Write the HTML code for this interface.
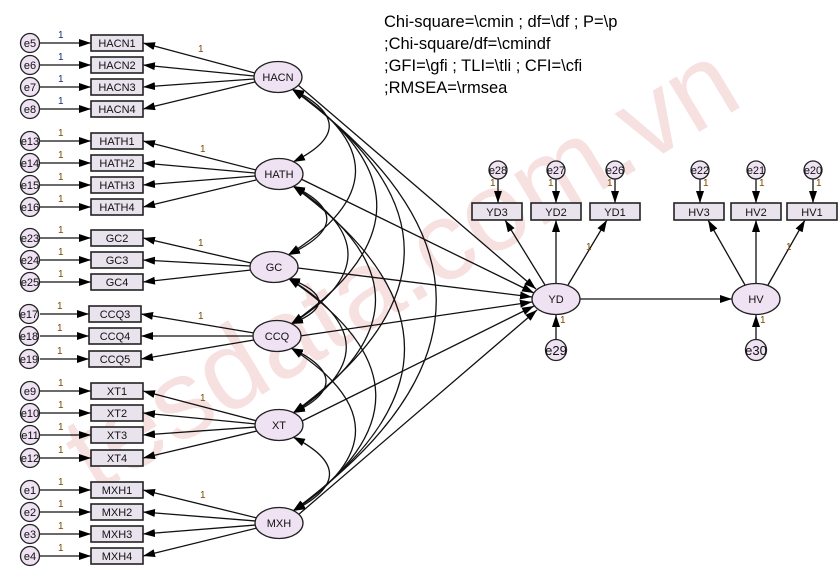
<!DOCTYPE html>
<html><head><meta charset="utf-8"><style>
html,body{margin:0;padding:0;background:#fff;width:840px;height:571px;overflow:hidden;}
svg{display:block;font-family:"Liberation Sans",Arial,sans-serif;}
.b{fill:#e9e3ee;stroke:#222;stroke-width:1.6;}
.c{fill:#efe2f3;stroke:#222;stroke-width:1.3;}
.l{stroke:#111;stroke-width:1.3;fill:none;}
.t{font-size:11px;text-anchor:middle;fill:#111;}
.o{font-size:10px;fill:#7a4a00;}
.n{font-size:10px;fill:#1a2a80;}
</style></head><body>
<svg width="840" height="571" viewBox="0 0 840 571" xmlns="http://www.w3.org/2000/svg">
<defs>
<marker id="a" viewBox="0 0 12 8" refX="12" refY="4" markerWidth="12" markerHeight="8" markerUnits="userSpaceOnUse" orient="auto-start-reverse"><path d="M0,0L12,4L0,8z" fill="#000"/></marker>
</defs>
<text x="95" y="495" font-size="112" fill="#f6e0e0" transform="rotate(-31 95 495)" font-family="Liberation Sans">tesdata.com.vn</text>
<g font-size="16.5" fill="#000">
<text x="384" y="27">Chi-square=\cmin ; df=\df ; P=\p</text>
<text x="384" y="49">;Chi-square/df=\cmindf</text>
<text x="384" y="71">;GFI=\gfi ; TLI=\tli ; CFI=\cfi</text>
<text x="384" y="93">;RMSEA=\rmsea</text>
</g>
<g class="l" marker-end="url(#a)">
<line x1="40" y1="43" x2="91" y2="43"/><line x1="40" y1="65" x2="91" y2="65"/><line x1="40" y1="87" x2="91" y2="87"/><line x1="40" y1="109" x2="91" y2="109"/>
<line x1="40" y1="141" x2="91" y2="141"/><line x1="40" y1="163" x2="91" y2="163"/><line x1="40" y1="185" x2="91" y2="185"/><line x1="40" y1="207" x2="91" y2="207"/>
<line x1="40" y1="238" x2="91" y2="238"/><line x1="40" y1="260" x2="91" y2="260"/><line x1="40" y1="282" x2="91" y2="282"/>
<line x1="40" y1="314" x2="89" y2="314"/><line x1="40" y1="336" x2="89" y2="336"/><line x1="40" y1="359" x2="89" y2="359"/>
<line x1="40" y1="391" x2="91" y2="391"/><line x1="40" y1="413" x2="91" y2="413"/><line x1="40" y1="435" x2="91" y2="435"/><line x1="40" y1="458" x2="91" y2="458"/>
<line x1="40" y1="490" x2="91" y2="490"/><line x1="40" y1="512" x2="91" y2="512"/><line x1="40" y1="534" x2="91" y2="534"/><line x1="40" y1="556" x2="91" y2="556"/>
<line x1="255" y1="73" x2="143" y2="43"/><line x1="254" y1="76" x2="143" y2="65"/><line x1="254" y1="79" x2="143" y2="87"/><line x1="255" y1="82" x2="143" y2="109"/>
<line x1="256" y1="170" x2="143" y2="141"/><line x1="255" y1="173" x2="143" y2="163"/><line x1="255" y1="176" x2="143" y2="185"/><line x1="256" y1="180" x2="143" y2="207"/>
<line x1="251" y1="263" x2="143" y2="238"/><line x1="250" y1="266" x2="143" y2="260"/><line x1="251" y1="270" x2="143" y2="282"/>
<line x1="254" y1="333" x2="141" y2="314"/><line x1="253" y1="336" x2="141" y2="336"/><line x1="254" y1="340" x2="141" y2="359"/>
<line x1="257" y1="421" x2="143" y2="391"/><line x1="256" y1="424" x2="143" y2="413"/><line x1="256" y1="427" x2="143" y2="435"/><line x1="257" y1="431" x2="143" y2="458"/>
<line x1="257" y1="518" x2="143" y2="490"/><line x1="256" y1="521" x2="143" y2="512"/><line x1="256" y1="525" x2="143" y2="534"/><line x1="257" y1="528" x2="143" y2="556"/>
<line x1="298" y1="85" x2="536" y2="289"/>
<line x1="301" y1="179" x2="534" y2="293"/>
<line x1="298" y1="268" x2="532" y2="297"/>
<line x1="300" y1="336" x2="532" y2="302"/>
<line x1="300" y1="422" x2="534" y2="306"/>
<line x1="298" y1="515" x2="537" y2="310"/>
<line x1="580" y1="299" x2="732" y2="299"/>
<line x1="545" y1="285" x2="505" y2="220"/><line x1="556" y1="283" x2="556" y2="220"/><line x1="568" y1="285" x2="607" y2="220"/>
<line x1="745" y1="285" x2="708" y2="220"/><line x1="756" y1="283" x2="756" y2="220"/><line x1="768" y1="285" x2="805" y2="220"/>
<line x1="498" y1="179" x2="498" y2="203"/><line x1="556" y1="179" x2="556" y2="203"/><line x1="615" y1="179" x2="615" y2="203"/>
<line x1="700" y1="179" x2="700" y2="203"/><line x1="756" y1="179" x2="756" y2="203"/><line x1="813" y1="179" x2="813" y2="203"/>
<line x1="556" y1="340" x2="556" y2="315"/><line x1="756" y1="340" x2="756" y2="315"/>
</g>
<g class="l" marker-start="url(#a)" marker-end="url(#a)">
<path d="M292 89 Q366 126 293 162"/>
<path d="M292 89 Q421 172 288 255"/>
<path d="M292 89 Q462 206 291 324"/>
<path d="M292 89 Q516 250 293 413"/>
<path d="M292 89 Q580 300 293 511"/>
<path d="M293 186 Q363 220 288 255"/>
<path d="M293 186 Q404 255 291 324"/>
<path d="M293 186 Q458 300 293 413"/>
<path d="M293 186 Q516 349 293 511"/>
<path d="M288 278 Q348 301 291 324"/>
<path d="M288 278 Q402 346 293 413"/>
<path d="M288 278 Q461 394 293 511"/>
<path d="M291 348 Q360 381 293 413"/>
<path d="M291 348 Q419 430 293 511"/>
<path d="M293 437 Q366 474 293 511"/>
</g>
<g>
<rect class="b" x="91" y="35" width="52" height="16"/><rect class="b" x="91" y="57" width="52" height="16"/><rect class="b" x="91" y="79" width="52" height="16"/><rect class="b" x="91" y="101" width="52" height="16"/>
<rect class="b" x="91" y="133" width="52" height="16"/><rect class="b" x="91" y="155" width="52" height="16"/><rect class="b" x="91" y="177" width="52" height="16"/><rect class="b" x="91" y="199" width="52" height="16"/>
<rect class="b" x="91" y="230" width="52" height="16"/><rect class="b" x="91" y="252" width="52" height="16"/><rect class="b" x="91" y="274" width="52" height="16"/>
<rect class="b" x="89" y="306" width="52" height="16"/><rect class="b" x="89" y="328" width="52" height="16"/><rect class="b" x="89" y="351" width="52" height="16"/>
<rect class="b" x="91" y="383" width="52" height="16"/><rect class="b" x="91" y="405" width="52" height="16"/><rect class="b" x="91" y="427" width="52" height="16"/><rect class="b" x="91" y="450" width="52" height="16"/>
<rect class="b" x="91" y="482" width="52" height="16"/><rect class="b" x="91" y="504" width="52" height="16"/><rect class="b" x="91" y="526" width="52" height="16"/><rect class="b" x="91" y="548" width="52" height="16"/>
<rect class="b" x="472" y="203" width="50" height="17"/><rect class="b" x="531" y="203" width="50" height="17"/><rect class="b" x="590" y="203" width="50" height="17"/>
<rect class="b" x="674" y="203" width="50" height="17"/><rect class="b" x="731" y="203" width="50" height="17"/><rect class="b" x="787" y="203" width="50" height="17"/>
</g>
<g class="t">
<text x="117" y="47">HACN1</text><text x="117" y="69">HACN2</text><text x="117" y="91">HACN3</text><text x="117" y="113">HACN4</text>
<text x="117" y="145">HATH1</text><text x="117" y="167">HATH2</text><text x="117" y="189">HATH3</text><text x="117" y="211">HATH4</text>
<text x="117" y="242">GC2</text><text x="117" y="264">GC3</text><text x="117" y="286">GC4</text>
<text x="115" y="318">CCQ3</text><text x="115" y="340">CCQ4</text><text x="115" y="363">CCQ5</text>
<text x="117" y="395">XT1</text><text x="117" y="417">XT2</text><text x="117" y="439">XT3</text><text x="117" y="462">XT4</text>
<text x="117" y="494">MXH1</text><text x="117" y="516">MXH2</text><text x="117" y="538">MXH3</text><text x="117" y="560">MXH4</text>
<text x="497" y="216">YD3</text><text x="556" y="216">YD2</text><text x="615" y="216">YD1</text>
<text x="699" y="216">HV3</text><text x="756" y="216">HV2</text><text x="812" y="216">HV1</text>
</g>
<g>
<ellipse class="c" cx="278" cy="77" rx="24" ry="15.5"/><ellipse class="c" cx="279" cy="174" rx="24" ry="15.5"/>
<ellipse class="c" cx="274" cy="267" rx="24" ry="15.5"/><ellipse class="c" cx="277" cy="336" rx="24" ry="15.5"/>
<ellipse class="c" cx="279" cy="425" rx="24" ry="15.5"/><ellipse class="c" cx="279" cy="523" rx="24" ry="15.5"/>
<ellipse class="c" cx="556" cy="299" rx="24" ry="15.5"/><ellipse class="c" cx="756" cy="299" rx="24" ry="15.5"/>
</g>
<g class="t">
<text x="278" y="81">HACN</text><text x="279" y="178">HATH</text><text x="274" y="271">GC</text><text x="277" y="340">CCQ</text>
<text x="279" y="429">XT</text><text x="279" y="527">MXH</text><text x="556" y="303">YD</text><text x="756" y="303">HV</text>
</g>
<g>
<circle class="c" cx="30" cy="43" r="9.5"/><circle class="c" cx="30" cy="65" r="9.5"/><circle class="c" cx="30" cy="87" r="9.5"/><circle class="c" cx="30" cy="109" r="9.5"/>
<circle class="c" cx="30" cy="141" r="9.5"/><circle class="c" cx="30" cy="163" r="9.5"/><circle class="c" cx="30" cy="185" r="9.5"/><circle class="c" cx="30" cy="207" r="9.5"/>
<circle class="c" cx="30" cy="238" r="9.5"/><circle class="c" cx="30" cy="260" r="9.5"/><circle class="c" cx="30" cy="282" r="9.5"/>
<circle class="c" cx="29" cy="314" r="9.5"/><circle class="c" cx="29" cy="336" r="9.5"/><circle class="c" cx="29" cy="359" r="9.5"/>
<circle class="c" cx="30" cy="391" r="9.5"/><circle class="c" cx="30" cy="413" r="9.5"/><circle class="c" cx="30" cy="435" r="9.5"/><circle class="c" cx="30" cy="458" r="9.5"/>
<circle class="c" cx="30" cy="490" r="9.5"/><circle class="c" cx="30" cy="512" r="9.5"/><circle class="c" cx="30" cy="534" r="9.5"/><circle class="c" cx="30" cy="556" r="9.5"/>
<circle class="c" cx="498" cy="170" r="9"/><circle class="c" cx="556" cy="170" r="9"/><circle class="c" cx="615" cy="170" r="9"/>
<circle class="c" cx="700" cy="170" r="9"/><circle class="c" cx="756" cy="170" r="9"/><circle class="c" cx="813" cy="170" r="9"/>
<circle class="c" cx="556" cy="350" r="10.5"/><circle class="c" cx="756" cy="350" r="10.5"/>
</g>
<g class="t">
<text x="30" y="47">e5</text><text x="30" y="69">e6</text><text x="30" y="91">e7</text><text x="30" y="113">e8</text>
<text x="30" y="145">e13</text><text x="30" y="167">e14</text><text x="30" y="189">e15</text><text x="30" y="211">e16</text>
<text x="30" y="242">e23</text><text x="30" y="264">e24</text><text x="30" y="286">e25</text>
<text x="29" y="318">e17</text><text x="29" y="340">e18</text><text x="29" y="363">e19</text>
<text x="30" y="395">e9</text><text x="30" y="417">e10</text><text x="30" y="439">e11</text><text x="30" y="462">e12</text>
<text x="30" y="494">e1</text><text x="30" y="516">e2</text><text x="30" y="538">e3</text><text x="30" y="560">e4</text>
<text x="498" y="174">e28</text><text x="556" y="174">e27</text><text x="615" y="174">e26</text>
<text x="700" y="174">e22</text><text x="756" y="174">e21</text><text x="813" y="174">e20</text>
<text x="556" y="355" font-size="13">e29</text><text x="756" y="355" font-size="13">e30</text>
</g>
<g class="n">
<text x="58" y="38">1</text><text x="58" y="60">1</text><text x="58" y="82">1</text><text x="58" y="104">1</text>
</g>
<g class="o">
<text x="58" y="136">1</text><text x="58" y="158">1</text><text x="58" y="180">1</text><text x="58" y="202">1</text>
<text x="58" y="233">1</text><text x="58" y="255">1</text><text x="58" y="277">1</text>
<text x="57" y="309">1</text><text x="57" y="331">1</text><text x="57" y="354">1</text>
<text x="58" y="386">1</text><text x="58" y="408">1</text><text x="58" y="430">1</text><text x="58" y="453">1</text>
<text x="58" y="485">1</text><text x="58" y="507">1</text><text x="58" y="529">1</text><text x="58" y="551">1</text>
<text x="198" y="52">1</text><text x="200" y="152">1</text><text x="198" y="246">1</text><text x="198" y="319">1</text><text x="200" y="401">1</text><text x="200" y="498">1</text>
<text x="586" y="250">1</text><text x="786" y="250">1</text>
<text x="490" y="186">1</text><text x="548" y="186">1</text><text x="607" y="186">1</text>
<text x="703" y="186">1</text><text x="759" y="186">1</text><text x="816" y="186">1</text>
<text x="560" y="323">1</text><text x="760" y="323">1</text>
</g>
</svg>
</body></html>
